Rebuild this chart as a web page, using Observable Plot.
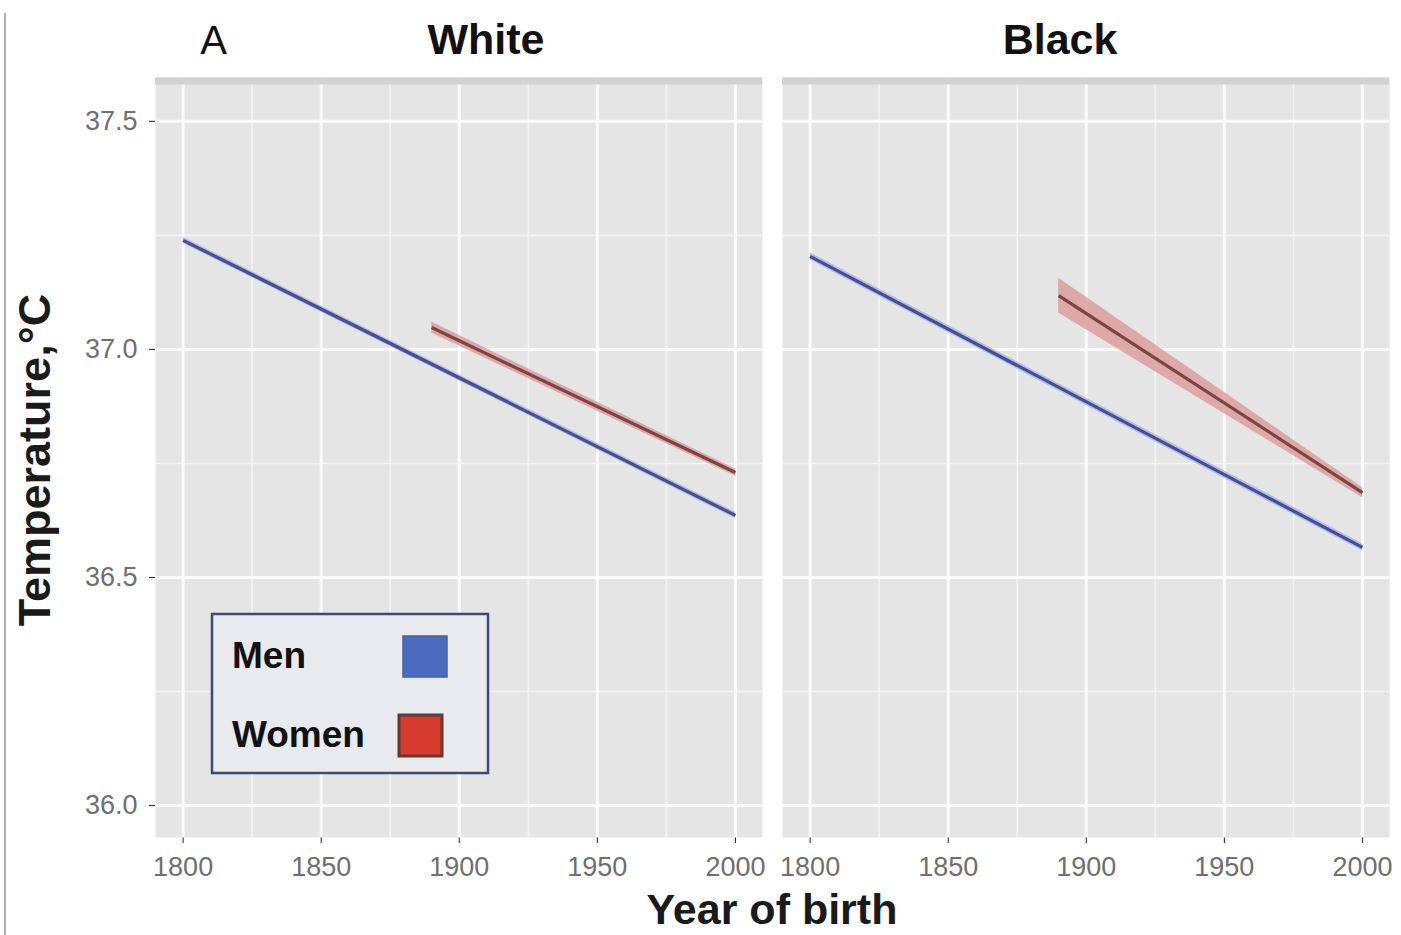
<!DOCTYPE html>
<html>
<head>
<meta charset="utf-8">
<script src="https://cdn.jsdelivr.net/npm/d3@7"></script>
<script src="https://cdn.jsdelivr.net/npm/@observablehq/plot@0.6"></script>
<style>
  html, body { margin: 0; padding: 0; background: #fff; }
  #wrap { position: relative; width: 1401px; height: 935px; overflow: hidden; }
  #wrap svg.plot { position: absolute; left: 0; top: 0; }
  #overlay { position: absolute; left: 0; top: 0; pointer-events: none; }
  [aria-label$="tick label"] text, [aria-label$="tick label"] { fill: #6f6f6f; }
  [aria-label$="-axis tick"] { stroke: #3a3a3a; }
</style>
</head>
<body>
<div id="wrap"></div>
<script>
// ---- data ----
const races = ["White", "Black"];
const sexes = ["Men", "Women"];
const yearsMen = [1800, 2000];
const yearsWomen = [1890, 2000];
const whiteMen = [37.239, 36.636];
const whiteWomen = [37.048, 36.730];
const blackMen = [37.204, 36.566];
const blackWomen = [37.118, 36.686];
const whiteMenCI = [0.007, 0.007];
const whiteWomenCI = [0.012, 0.008];
const blackMenCI = [0.008, 0.008];
const blackWomenCI = [0.038, 0.011];
const xTicks = [1800, 1850, 1900, 1950, 2000];
const xMinor = [1825, 1875, 1925, 1975];
const yTicks = [36.0, 36.5, 37.0, 37.5];
const yMinor = [36.25, 36.75, 37.25];
const lineColors = { Men: "#47508f", Women: "#7e4444" };
const bandColors = { Men: "#aab3f0", Women: "#dc9d9d" };
const swatchColors = { Men: "#4b6bbf", Women: "#d63b2d" };

// ---- build rows ----
const series = [
  ["White", "Men", yearsMen, whiteMen, whiteMenCI],
  ["White", "Women", yearsWomen, whiteWomen, whiteWomenCI],
  ["Black", "Men", yearsMen, blackMen, blackMenCI],
  ["Black", "Women", yearsWomen, blackWomen, blackWomenCI]
];
const rows = [];
for (const [race, sex, yrs, vals, ci] of series) {
  yrs.forEach((yr, i) => rows.push({ race, sex, key: race + sex, year: yr, temp: vals[i], lo: vals[i] - ci[i], hi: vals[i] + ci[i] }));
}

const xDomain = [1790, 2009.8];
const yDomain = [35.93, 37.596];

const chart = Plot.plot({
  width: 1401,
  height: 935,
  marginLeft: 155,
  marginRight: 11,
  marginTop: 77,
  marginBottom: 98,
  style: { background: "transparent", fontFamily: "'Liberation Sans', Arial, sans-serif", fontSize: "27px", color: "#222" },
  fx: { domain: races, paddingInner: 0.03187, paddingOuter: 0, axis: null, label: null },
  x: { domain: xDomain, ticks: xTicks, tickFormat: d => String(d), label: null, tickSize: 6, tickPadding: 13 },
  y: { domain: yDomain, ticks: yTicks, tickFormat: d => d.toFixed(1), label: null, tickSize: 6, tickPadding: 12 },
  color: { type: "identity" },
  marks: [
    Plot.frame({ fill: "#e5e5e5", stroke: null }),
    Plot.ruleX(xMinor, { stroke: "#f3f3f3", strokeWidth: 1.6 }),
    Plot.ruleY(yMinor, { stroke: "#f3f3f3", strokeWidth: 1.6 }),
    Plot.ruleX(xTicks, { stroke: "#fafafa", strokeWidth: 3 }),
    Plot.ruleY(yTicks, { stroke: "#fafafa", strokeWidth: 3 }),
    Plot.ruleY([yDomain[1]], { stroke: "#d2d2d2", strokeWidth: 7, dy: 3.5 }),
    Plot.areaY(rows, { fx: "race", x: "year", y1: "lo", y2: "hi", z: "key", fill: d => bandColors[d.sex], fillOpacity: 0.85 }),
    Plot.line(rows, { fx: "race", x: "year", y: "temp", z: "key", stroke: d => lineColors[d.sex], strokeWidth: 3.2, strokeLinecap: "butt" }),
    Plot.text(["White"], { fx: d => d, text: d => d, frameAnchor: "top", lineAnchor: "bottom", dx: 27, dy: -24, fontSize: 43, fontWeight: "bold", fill: "#111" }),
    Plot.text(["Black"], { fx: d => d, text: d => d, frameAnchor: "top", lineAnchor: "bottom", dx: -26, dy: -24, fontSize: 43, fontWeight: "bold", fill: "#111" }),
    Plot.text(["A"], { fx: () => "White", text: d => d, frameAnchor: "top-left", textAnchor: "middle", lineAnchor: "bottom", dx: 58, dy: -24, fontSize: 40, fill: "#111" })
  ]
});
chart.classList.add("plot");
const wrap = document.getElementById("wrap");
wrap.appendChild(chart);

// ---- overlay: axis titles, legend, border ----
const ns = "http://www.w3.org/2000/svg";
const ov = document.createElementNS(ns, "svg");
ov.setAttribute("id", "overlay");
ov.setAttribute("width", 1401);
ov.setAttribute("height", 935);
wrap.appendChild(ov);
function el(tag, attrs, text) {
  const e = document.createElementNS(ns, tag);
  for (const k in attrs) e.setAttribute(k, attrs[k]);
  if (text != null) e.textContent = text;
  ov.appendChild(e);
  return e;
}
const font = "'Liberation Sans', Arial, sans-serif";
el("line", { x1: 5, x2: 5, y1: 13, y2: 935, stroke: "#b0b0b0", "stroke-width": 2 });
el("text", { x: 0, y: 0, transform: "translate(50,460) rotate(-90)", "text-anchor": "middle", "font-family": font, "font-size": 45, "font-weight": "bold", fill: "#1a1a1a" }, "Temperature,°C");
el("text", { x: 772, y: 924, "text-anchor": "middle", "font-family": font, "font-size": 43, "font-weight": "bold", fill: "#1a1a1a" }, "Year of birth");
// legend
el("rect", { x: 212, y: 614, width: 276, height: 159, fill: "#e9eaee", stroke: "#3d4a78", "stroke-width": 2.5 });
el("text", { x: 232, y: 668, "font-family": font, "font-size": 37, "font-weight": "bold", fill: "#111" }, sexes[0]);
el("text", { x: 232, y: 747, "font-family": font, "font-size": 37, "font-weight": "bold", fill: "#111" }, sexes[1]);
el("rect", { x: 403, y: 636, width: 44, height: 41, fill: swatchColors.Men, stroke: "#4260ad", "stroke-width": 1.5 });
el("rect", { x: 399, y: 715, width: 43, height: 41, fill: swatchColors.Women, stroke: "#5d3a3a", "stroke-width": 3 });
</script>
</body>
</html>
